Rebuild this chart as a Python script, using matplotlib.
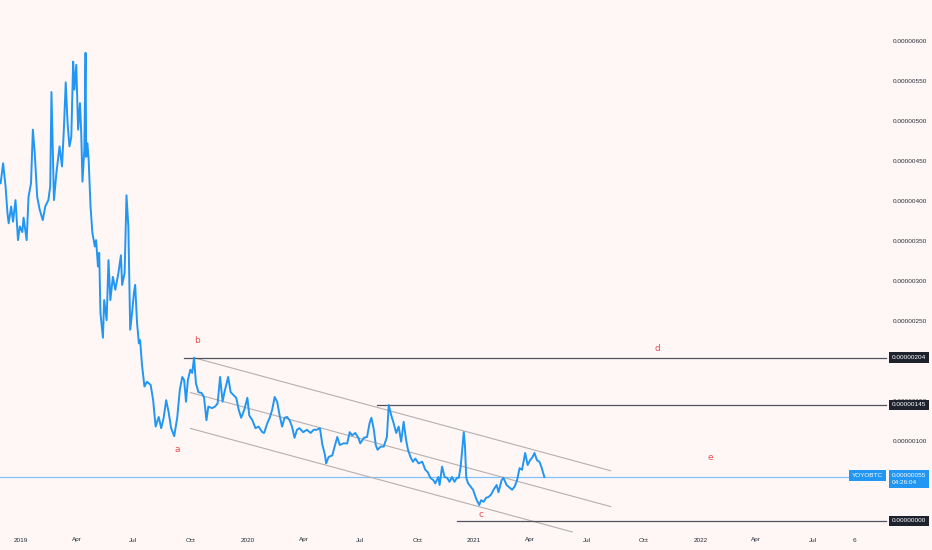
import pandas as pd
import matplotlib
matplotlib.use("Agg")
import matplotlib.pyplot as plt

plt.rcParams['font.family'] = ['Liberation Sans', 'DejaVu Sans']

# YOYO/BTC, pris i satoshi (1e-8 BTC)
dates = [
    "2018-11-29", "2018-12-03", "2018-12-07", "2018-12-10", "2018-12-12", "2018-12-16",
    "2018-12-19", "2018-12-23", "2018-12-27", "2018-12-30", "2019-01-03", "2019-01-05",
    "2019-01-10", "2019-01-13", "2019-01-17", "2019-01-20", "2019-01-23", "2019-01-27",
    "2019-01-31", "2019-02-05", "2019-02-09", "2019-02-14", "2019-02-17", "2019-02-19",
    "2019-02-23", "2019-02-27", "2019-03-04", "2019-03-08", "2019-03-11", "2019-03-14",
    "2019-03-17", "2019-03-20", "2019-03-23", "2019-03-26", "2019-03-28", "2019-03-31",
    "2019-04-03", "2019-04-06", "2019-04-08", "2019-04-10", "2019-04-13", "2019-04-15",
    "2019-04-16", "2019-04-18", "2019-04-20", "2019-04-23", "2019-04-26", "2019-04-30",
    "2019-05-02", "2019-05-05", "2019-05-07", "2019-05-09", "2019-05-13", "2019-05-15",
    "2019-05-19", "2019-05-22", "2019-05-25", "2019-05-29", "2019-06-02", "2019-06-07",
    "2019-06-11", "2019-06-13", "2019-06-17", "2019-06-20", "2019-06-23", "2019-06-26",
    "2019-06-29", "2019-07-02", "2019-07-04", "2019-07-07", "2019-07-10", "2019-07-12",
    "2019-07-15", "2019-07-19", "2019-07-23", "2019-07-29", "2019-08-02", "2019-08-06",
    "2019-08-11", "2019-08-15", "2019-08-19", "2019-08-23", "2019-08-27", "2019-08-31",
    "2019-09-05", "2019-09-10", "2019-09-14", "2019-09-18", "2019-09-21", "2019-09-24",
    "2019-09-27", "2019-10-01", "2019-10-04", "2019-10-07", "2019-10-10", "2019-10-14",
    "2019-10-19", "2019-10-23", "2019-10-27", "2019-10-30", "2019-11-05", "2019-11-10",
    "2019-11-14", "2019-11-18", "2019-11-22", "2019-11-25", "2019-12-01", "2019-12-05",
    "2019-12-10", "2019-12-14", "2019-12-18", "2019-12-22", "2019-12-27", "2020-01-01",
    "2020-01-04", "2020-01-09", "2020-01-14", "2020-01-19", "2020-01-25", "2020-01-28",
    "2020-02-02", "2020-02-06", "2020-02-10", "2020-02-14", "2020-02-18", "2020-02-22",
    "2020-02-26", "2020-03-01", "2020-03-05", "2020-03-09", "2020-03-13", "2020-03-17",
    "2020-03-21", "2020-03-25", "2020-03-31", "2020-04-06", "2020-04-12", "2020-04-17",
    "2020-04-22", "2020-04-27", "2020-05-01", "2020-05-05", "2020-05-07", "2020-05-11",
    "2020-05-17", "2020-05-20", "2020-05-25", "2020-05-29", "2020-06-04", "2020-06-10",
    "2020-06-14", "2020-06-18", "2020-06-23", "2020-06-28", "2020-07-01", "2020-07-07",
    "2020-07-12", "2020-07-16", "2020-07-19", "2020-07-23", "2020-07-26", "2020-07-29",
    "2020-08-03", "2020-08-08", "2020-08-13", "2020-08-16", "2020-08-20", "2020-08-24",
    "2020-08-28", "2020-09-01", "2020-09-05", "2020-09-09", "2020-09-13", "2020-09-16",
    "2020-09-20", "2020-09-24", "2020-09-28", "2020-10-03", "2020-10-09", "2020-10-14",
    "2020-10-18", "2020-10-22", "2020-10-27", "2020-10-30", "2020-11-04", "2020-11-06",
    "2020-11-10", "2020-11-14", "2020-11-18", "2020-11-22", "2020-11-26", "2020-11-30",
    "2020-12-04", "2020-12-07", "2020-12-10", "2020-12-13", "2020-12-15", "2020-12-17",
    "2020-12-19", "2020-12-22", "2020-12-26", "2020-12-30", "2021-01-03", "2021-01-05",
    "2021-01-09", "2021-01-12", "2021-01-16", "2021-01-20", "2021-01-24", "2021-01-28",
    "2021-02-01", "2021-02-06", "2021-02-09", "2021-02-14", "2021-02-17", "2021-02-22",
    "2021-02-25", "2021-03-03", "2021-03-07", "2021-03-11", "2021-03-15", "2021-03-19",
    "2021-03-24", "2021-03-28", "2021-04-01", "2021-04-05", "2021-04-08", "2021-04-12",
    "2021-04-16", "2021-04-19", "2021-04-22", "2021-04-24",
]
price_sats = [
    422, 447, 418, 385, 372, 393,
    374, 401, 351, 368, 361, 379,
    351, 405, 422, 489, 460, 405,
    389, 376, 393, 401, 418, 536,
    401, 435, 468, 443, 489, 548,
    497, 468, 480, 574, 539, 570,
    489, 522, 485, 424, 464, 585,
    455, 472, 451, 393, 360, 343,
    351, 318, 335, 260, 229, 276,
    251, 326, 276, 305, 289, 310,
    332, 295, 310, 407, 368, 239,
    260, 285, 295, 248, 222, 226,
    195, 168, 174, 170, 151, 118,
    130, 116, 129, 151, 136, 116,
    106, 130, 164, 180, 176, 149,
    176, 189, 185, 204, 172, 161,
    160, 155, 126, 143, 141, 143,
    147, 180, 149, 161, 180, 161,
    157, 154, 139, 129, 139, 154,
    132, 126, 116, 118, 111, 110,
    122, 129, 139, 155, 149, 132,
    118, 129, 130, 126, 118, 104,
    114, 116, 111, 114, 110, 114,
    114, 116, 95, 83, 72, 80,
    82, 91, 105, 95, 97, 97,
    111, 107, 110, 104, 97, 104,
    105, 122, 129, 114, 95, 89,
    93, 93, 105, 145, 132, 122,
    110, 118, 99, 124, 101, 89,
    80, 74, 78, 72, 74, 64,
    61, 54, 51, 47, 55, 45,
    68, 55, 54, 49, 55, 49,
    54, 54, 68, 93, 111, 93,
    54, 47, 43, 39, 30, 26,
    20, 26, 24, 29, 30, 33,
    39, 45, 36, 51, 54, 45,
    43, 39, 43, 51, 66, 64,
    85, 70, 76, 80, 85, 76,
    74, 68, 60, 55,
]

# Horisontale nivåer: startdato og nivå
levels_start = ["2019-09-20", "2020-07-28", "2020-12-04"]
levels_value = [204, 145, 0]
last_price = 55

# Nedadgående kanal (øvre, midt, nedre)
channel_start = ["2019-10-07", "2019-10-01", "2019-10-01"]
channel_start_val = [204, 160.5, 115.7]
channel_end = ["2021-08-09", "2021-08-09", "2021-06-08"]
channel_end_val = [62.8, 18, -13.7]

# Bølgemerker
wave_labels = ["a", "b", "c", "d", "e"]
wave_dates = ["2019-09-10", "2019-10-11", "2021-01-11", "2021-10-24", "2022-01-16"]
wave_values = [89, 226, 7.5, 215, 79]

tick_dates = ["2019-01-01", "2019-04-01", "2019-07-01", "2019-10-01", "2020-01-01",
              "2020-04-01", "2020-07-01", "2020-10-01", "2021-01-01", "2021-04-01",
              "2021-07-01", "2021-10-01", "2022-01-01", "2022-04-01", "2022-07-01",
              "2022-09-06"]
tick_labels = ["2019", "Apr", "Jul", "Oct", "2020", "Apr", "Jul", "Oct", "2021", "Apr",
               "Jul", "Oct", "2022", "Apr", "Jul", "6"]
# skalaverdier som ikke er dekket av prisetikettene
price_ticks = [100, 150, 250, 300, 350, 400, 450, 500, 550, 600]

bg = "#fef7f5"
blue = "#2196f3"
red = "#ee4d4d"
fs = 4.6

df = pd.DataFrame({"Time": pd.to_datetime(dates), "Price": price_sats})

fig = plt.figure(figsize=(9.32, 5.5), dpi=100, facecolor=bg)
ax = fig.add_axes([0, 1 - 525 / 550, 886 / 932, 525 / 550])
ax.set_facecolor(bg)

# Siste pris-linje
ax.axhline(last_price, color="#64b5f6", lw=0.9, alpha=0.8, zorder=1)

# Kanal
for s, sv, e, ev in zip(channel_start, channel_start_val, channel_end, channel_end_val):
    ax.plot([pd.Timestamp(s), pd.Timestamp(e)], [sv, ev], color="#b8aeae", lw=0.8,
            zorder=1, clip_on=False)

# Nivålinjer
xmax = pd.Timestamp("2022-10-27")
for s, v in zip(levels_start, levels_value):
    ax.plot([pd.Timestamp(s), xmax], [v, v], color="#50535e", lw=0.9, zorder=2, clip_on=False)

ax.plot(df["Time"], df["Price"], color=blue, lw=1.4, zorder=3)

for lab, d, v in zip(wave_labels, wave_dates, wave_values):
    ax.text(pd.Timestamp(d), v, lab, color=red, fontsize=6.5, ha="center", va="center",
            family=["DejaVu Sans"])

ax.set_xlim(pd.Timestamp("2018-11-28"), xmax)
ax.set_ylim(-5, 651)

ax.set_xticks(pd.to_datetime(tick_dates))
ax.set_xticklabels(tick_labels)
ax.set_yticks(price_ticks)
ax.yaxis.set_major_formatter(plt.FuncFormatter(lambda v, p: f"{v * 1e-8:.8f}"))
ax.yaxis.tick_right()
ax.tick_params(axis="both", length=0, labelsize=fs, colors="#2a2e39")
ax.tick_params(axis="x", pad=9)
ax.tick_params(axis="y", pad=5)
for sp in ax.spines.values():
    sp.set_visible(False)

# Prisetiketter på aksen
for v in levels_value:
    ax.annotate(f"{v * 1e-8:.8f}", xy=(1, v), xycoords=("axes fraction", "data"),
                xytext=(4, 0), textcoords="offset points", ha="left", va="center",
                fontsize=fs, color="white", zorder=10, annotation_clip=False,
                bbox=dict(boxstyle="square,pad=0.45", fc="#1e222d", ec="none"))

ax.annotate(f"{last_price * 1e-8:.8f}\n04:26:04", xy=(1, last_price),
            xycoords=("axes fraction", "data"), xytext=(4, 3), textcoords="offset points",
            ha="left", va="top", fontsize=fs, color="white", zorder=10,
            annotation_clip=False, linespacing=1.5,
            bbox=dict(boxstyle="square,pad=0.45", fc=blue, ec="none"))
ax.annotate("YOYOBTC", xy=(1, last_price), xycoords=("axes fraction", "data"),
            xytext=(-2, 3), textcoords="offset points", ha="right", va="top",
            fontsize=fs, color="white", zorder=10, annotation_clip=False,
            bbox=dict(boxstyle="square,pad=0.45", fc=blue, ec="none"))

fig.savefig("out.png", dpi=100, facecolor=bg)
